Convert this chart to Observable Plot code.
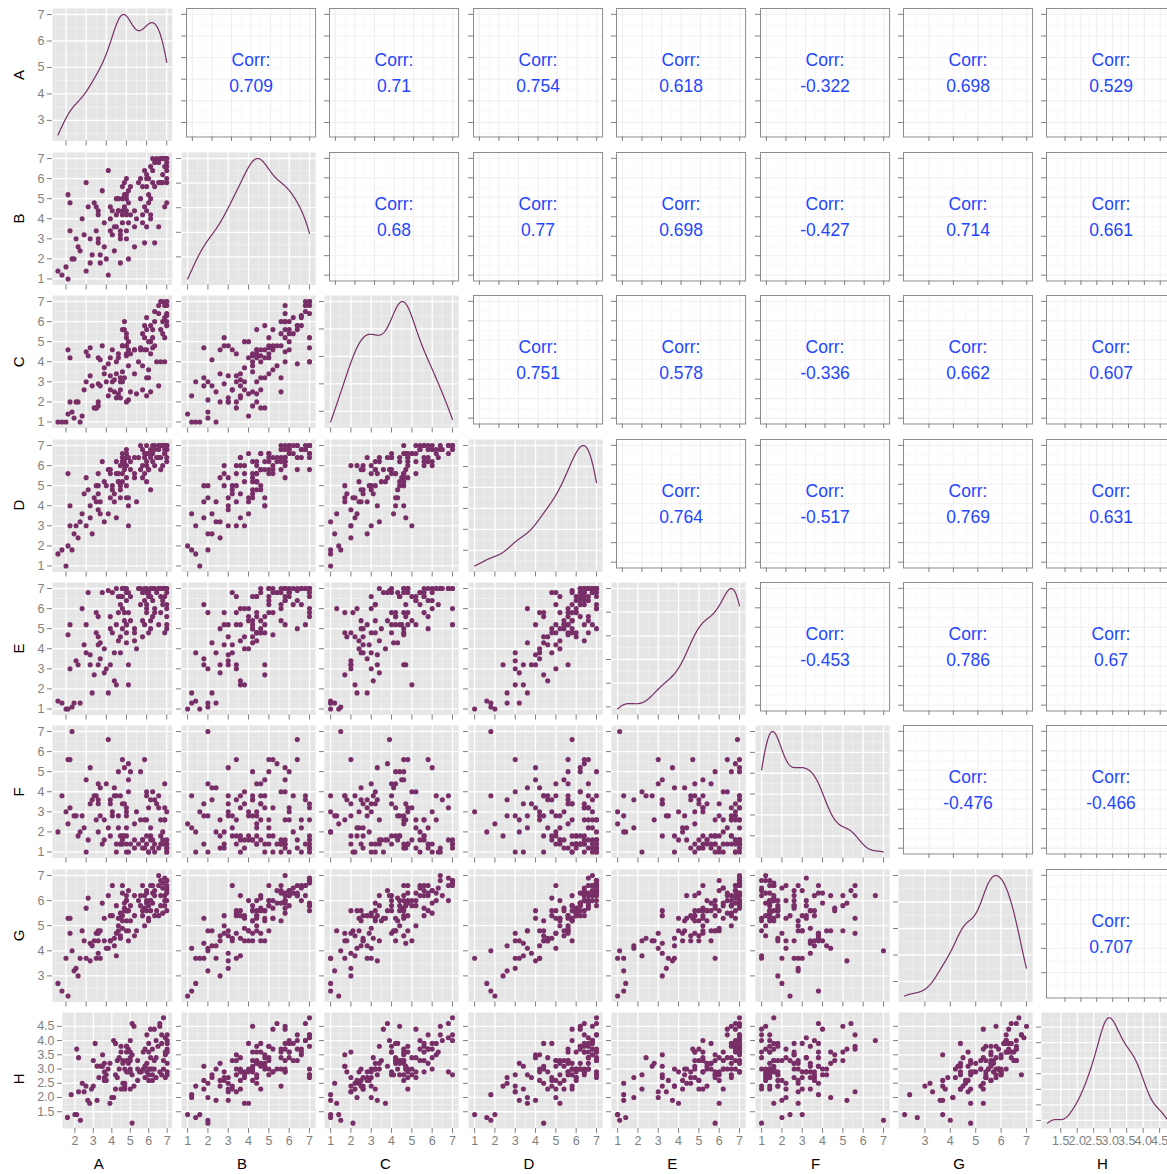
<!DOCTYPE html>
<html>
<head>
<meta charset="utf-8">
<script src="https://cdn.jsdelivr.net/npm/d3@7"></script>
<script src="https://cdn.jsdelivr.net/npm/@observablehq/plot@0.6"></script>
<style>
  body { margin: 0; background: #ffffff; }
  #wrap { position: relative; width: 1167px; height: 1174px; overflow: hidden; background: #ffffff;
          font-family: "Liberation Sans", Arial, Helvetica, sans-serif; }
  #wrap svg { position: absolute; }
</style>
</head>
<body>
<div id="wrap"></div>
<script>
// ---------- data (one value per respondent, same order in every array) ----------
const varNames = ["A", "B", "C", "D", "E", "F", "G", "H"];

const A = [1.6,1.8,2.0,2.1,2.1,2.2,2.2,2.3,2.4,2.5,
  2.6,2.7,2.8,3.0,3.0,3.1,3.2,3.2,3.4,3.5,3.5,3.3,2.9,
  3.6,3.6,3.6,3.6,3.7,3.7,3.8,3.9,4.1,4.1,4.2,4.2,4.2,4.3,4.3,4.4,4.4,4.5,4.5,4.5,4.0,3.9,
  4.6,4.6,4.7,4.7,4.8,4.8,4.7,4.8,4.9,5.0,5.0,5.0,5.0,5.0,5.0,5.1,5.1,5.1,5.1,5.2,5.2,4.7,4.8,5.4,5.4,4.9,5.4,5.5,4.6,4.9,
  4.8,5.6,5.0,5.7,5.7,5.8,5.8,5.8,5.9,5.9,5.9,6.0,6.0,6.0,6.0,6.0,6.1,6.1,6.2,6.2,6.2,6.3,6.3,6.3,6.4,6.4,6.5,6.4,6.1,6.2,
  6.6,6.6,6.6,6.7,6.7,6.7,6.8,6.8,6.8,6.9,6.9,6.9,6.9,7.0,7.0,7.0,7.0,7.0,7.0,7.0,7.0];
const B = [1.4,1.2,1.6,1.0,5.2,4.8,3.4,2.0,2.0,3.0,
  2.6,2.4,4.0,5.8,1.4,4.6,3.0,1.8,4.8,4.6,3.4,2.2,3.2,
  4.2,3.0,2.8,4.4,2.2,1.8,5.4,3.8,6.4,1.2,4.0,4.6,3.4,4.4,3.2,3.6,2.4,5.0,3.6,4.2,2.0,2.6,
  5.0,4.4,3.4,3.2,5.6,4.2,3.0,3.8,4.6,5.2,3.0,4.2,5.0,4.4,6.0,2.0,4.8,3.8,5.4,4.2,5.6,1.8,5.0,4.4,2.6,5.8,3.6,4.0,4.4,5.2,
  4.4,5.8,3.4,6.0,5.0,4.2,5.6,3.8,6.4,4.6,2.8,5.6,6.0,4.4,6.2,3.6,6.0,4.8,6.6,5.0,4.2,5.8,6.4,7.0,6.8,2.8,7.0,5.6,5.2,4.0,
  6.8,3.6,5.8,5.8,7.0,7.0,6.2,5.8,7.0,4.6,6.6,7.0,7.0,7.0,6.0,6.4,6.8,5.8,6.6,7.0,4.8];
const C = [1.0,1.0,1.0,1.4,4.6,4.2,2.0,1.5,1.2,2.0,
  2.0,1.0,1.3,4.5,3.0,4.3,3.3,4.7,1.7,1.7,1.7,2.8,2.6,
  1.8,2.0,2.9,4.2,4.1,2.8,4.8,3.7,3.9,2.3,4.2,2.6,3.3,3.0,4.6,3.1,2.5,3.4,2.2,4.0,3.0,3.4,
  4.2,2.4,3.0,2.6,4.8,3.5,2.2,3.0,3.2,4.8,4.8,4.3,5.2,2.0,5.4,2.1,4.6,5.0,3.8,4.4,2.5,3.2,4.8,4.6,4.6,6.0,3.4,2.4,4.4,5.6,
  5.6,4.0,4.4,4.6,4.7,3.8,5.4,2.6,5.8,4.6,5.2,3.2,5.6,4.6,6.2,2.3,5.0,3.2,5.8,4.4,2.5,5.2,5.6,4.7,6.5,4.8,4.0,6.0,3.6,5.0,
  6.8,2.8,6.4,5.6,4.0,7.0,5.4,6.0,7.0,4.0,6.2,6.8,5.2,6.4,6.0,5.8,7.0,6.8,6.3,7.0,5.8];
const D = [1.6,1.8,1.0,2.0,5.6,4.0,3.0,1.8,2.6,3.0,
  2.4,3.2,3.6,5.4,3.0,4.8,4.0,3.4,4.4,5.0,4.2,2.6,4.6,
  4.6,3.8,5.0,5.6,3.6,4.2,6.2,5.2,5.8,3.6,4.4,5.8,5.6,4.8,5.0,4.6,4.2,6.2,3.4,5.6,5.0,3.2,
  5.6,5.2,6.0,4.8,6.4,5.2,4.4,5.6,5.8,6.4,5.4,4.4,6.6,6.0,6.8,4.4,4.0,3.0,6.4,6.2,5.8,5.0,6.6,5.6,5.4,6.2,6.4,4.2,5.2,6.0,
  6.2,6.4,5.0,7.0,5.8,5.4,6.8,6.0,6.4,6.6,5.6,6.2,7.0,5.2,6.6,6.0,6.6,5.8,6.8,6.4,4.8,6.2,7.0,6.6,6.8,6.0,6.4,7.0,5.8,6.6,
  7.0,6.4,6.8,6.4,5.8,7.0,7.0,6.0,7.0,6.6,6.8,6.6,7.0,7.0,6.8,7.0,6.8,7.0,6.4,7.0,6.2];
const E = [1.4,1.3,1.0,1.0,4.7,5.2,3.0,1.1,1.3,3.4,
  3.2,1.3,6.0,5.2,3.8,6.8,3.7,3.2,2.7,4.8,5.8,1.8,4.2,
  4.6,3.2,4.2,5.6,4.3,3.5,6.8,4.0,6.9,1.8,5.6,5.0,3.2,4.8,6.8,2.4,3.8,7.0,2.2,5.2,3.0,2.8,
  5.8,4.4,6.6,3.8,7.0,5.0,4.6,6.0,5.4,7.0,5.2,4.3,6.4,4.8,6.8,5.8,3.2,2.2,6.8,6.6,5.4,6.2,7.0,4.8,5.0,7.0,4.4,4.0,6.6,5.8,
  6.6,7.0,5.2,7.0,6.2,5.4,6.8,4.6,6.4,7.0,5.2,6.2,6.8,5.8,7.0,6.0,6.6,4.8,7.0,6.6,5.0,6.4,7.0,5.6,7.0,5.8,6.8,6.0,6.8,5.4,
  7.0,5.2,7.0,6.6,5.8,7.0,6.2,6.4,7.0,4.8,7.0,7.0,6.6,7.0,6.8,5.0,5.2,7.0,6.2,6.0,5.6];
const F = [2.0,3.8,3.0,2.4,5.6,3.2,5.6,7.0,2.8,2.8,
  1.8,2.0,2.8,4.6,1.0,1.6,5.2,3.4,3.8,3.8,2.6,3.6,2.2,
  3.6,3.4,2.0,4.4,4.2,2.8,1.4,1.6,6.6,2.2,1.8,3.4,3.6,3.0,2.8,3.8,4.2,1.4,1.0,3.8,4.4,2.6,
  5.0,2.2,1.4,1.8,1.4,1.6,3.8,3.4,3.4,3.2,3.0,2.8,2.2,1.4,1.0,1.0,4.6,4.0,5.4,5.0,1.4,1.4,5.6,2.4,1.2,5.2,1.6,3.0,2.8,1.8,
  1.8,1.4,1.8,5.0,2.6,1.6,1.6,1.2,5.6,2.6,1.2,4.0,2.6,1.4,3.8,1.8,3.2,1.0,2.2,1.8,3.6,4.0,1.6,1.2,3.6,1.4,3.4,1.0,1.0,1.6,
  3.8,3.2,1.2,2.6,1.8,1.4,2.0,1.4,1.6,4.4,2.6,3.2,2.6,1.0,3.0,1.2,1.4,1.6,1.0,1.2,1.4];
const G = [2.7,2.4,3.7,2.2,5.3,5.3,4.7,4.0,3.2,3.3,
  3.0,3.7,4.8,5.7,3.7,6.1,3.6,4.3,4.4,4.7,3.7,4.2,4.4,
  4.4,3.9,4.7,4.8,4.8,3.7,5.9,5.3,6.2,4.1,4.4,4.4,5.4,5.4,6.6,4.5,4.2,5.8,3.8,4.7,4.1,4.4,
  4.8,5.3,5.5,4.5,6.3,5.2,4.6,4.9,5.6,6.0,4.8,5.2,6.0,5.6,6.2,4.8,5.6,4.4,6.4,5.8,5.2,5.3,6.6,5.4,4.6,5.9,6.2,4.8,5.0,5.7,
  5.4,6.0,5.6,6.2,5.8,5.6,6.6,5.4,6.2,5.7,5.0,5.9,6.4,6.0,6.3,5.6,5.8,5.2,6.6,6.0,5.6,6.3,6.6,5.9,6.2,5.4,5.6,6.4,5.3,6.0,
  6.6,5.4,7.0,6.2,5.8,6.8,6.5,5.5,6.7,6.2,6.0,6.9,5.8,6.8,6.4,6.3,6.6,6.0,6.5,6.8,5.6];
const H = [1.3,2.1,1.4,1.4,3.7,3.4,2.2,1.2,2.5,2.2,
  2.4,1.9,1.8,3.3,2.4,3.9,1.9,3.1,3.1,3.1,3.5,2.7,2.3,
  2.9,2.7,2.6,3.2,2.8,2.6,3.0,1.8,4.0,2.0,3.9,2.3,2.8,2.7,3.3,3.4,3.0,3.8,2.3,3.6,2.0,3.2,
  3.3,2.5,3.0,2.4,3.6,3.3,2.5,2.9,3.2,2.9,2.3,3.0,3.4,3.6,4.0,1.1,3.5,2.8,4.6,4.5,2.4,2.3,3.8,3.3,2.6,3.7,3.0,2.9,3.2,2.9,
  3.8,2.9,3.3,3.6,3.0,3.1,3.7,2.7,4.2,3.2,2.9,3.0,3.6,2.8,3.9,2.6,3.4,3.0,3.7,2.8,2.6,4.4,3.3,3.0,4.0,2.7,3.8,3.4,4.4,3.0,
  4.6,2.9,4.5,3.9,2.8,4.2,3.3,3.0,4.8,3.6,3.5,4.1,2.7,4.2,3.9,3.7,4.0,2.9,3.6,2.8,3.2];

// correlation labels, upper triangle, row by row
const corrA = [0.709, 0.71, 0.754, 0.618, -0.322, 0.698, 0.529];
const corrB = [0.68, 0.77, 0.698, -0.427, 0.714, 0.661];
const corrC = [0.751, 0.578, -0.336, 0.662, 0.607];
const corrD = [0.764, -0.517, 0.769, 0.631];
const corrE = [-0.453, 0.786, 0.67];
const corrF = [-0.476, -0.466];
const corrG = [0.707];

// axis tick values per variable
const ticksA = [2, 3, 4, 5, 6, 7];
const ticks17 = [1, 2, 3, 4, 5, 6, 7];
const ticksG = [3, 4, 5, 6, 7];
const ticksH = [1.5, 2.0, 2.5, 3.0, 3.5, 4.0, 4.5];

// ---------- drawing ----------
const cols = [A, B, C, D, E, F, G, H];
const corrRows = [corrA, corrB, corrC, corrD, corrE, corrF, corrG];
const tickSets = [ticksA, ticks17, ticks17, ticks17, ticks17, ticks17, ticksG, ticksH];
const fmts = varNames.map((v, k) => k === 7 ? d3.format(".1f") : d3.format("d"));
const n = d3.min(cols, c => c.length);
const idx = d3.range(n);

const purple = "#782E66";
const grey = "#7F7F7F";
const blue = "#2346FF";
const font = "Liberation Sans, Arial, Helvetica, sans-serif";

function expand(lo, hi) { const r = hi - lo; return [lo - 0.05 * r, hi + 0.05 * r]; }
const doms = cols.map(c => expand(d3.min(c.slice(0, n)), d3.max(c.slice(0, n))));

function minors(ticks, dom) {
  if (ticks.length < 2) return [];
  const step = ticks[1] - ticks[0];
  const out = [];
  for (let t = ticks[0] - step / 2; t <= dom[1]; t += step) if (t >= dom[0]) out.push(t);
  return out;
}

// Gaussian kernel density (bw.nrd0), scaled into the variable's range like ggpairs' diagonal
function density(v) {
  const s = v.slice(0, n).sort(d3.ascending);
  const sd = d3.deviation(s);
  const iqr = d3.quantile(s, 0.75) - d3.quantile(s, 0.25);
  const bw = 0.9 * Math.min(sd, iqr / 1.34) * Math.pow(s.length, -0.2);
  const lo = s[0], hi = s[s.length - 1];
  const pts = d3.range(512).map(k => {
    const x = lo + (hi - lo) * k / 511;
    let d = 0;
    for (const xi of s) { const u = (x - xi) / bw; d += Math.exp(-0.5 * u * u); }
    return {x, d};
  });
  const mx = d3.max(pts, p => p.d);
  pts.forEach(p => { p.y = p.d / mx * (hi - lo) + lo; });
  return pts;
}
const dens = cols.map(density);

const wrap = document.getElementById("wrap");

function cell(i, j) {
  const x0 = j === 0 ? (i === 7 ? 62 : 52) : 181 + 143.4 * (j - 1);
  const x1 = 171.7 + 143.4 * j;
  const y0 = 8.3 + 143.4 * i;
  const y1 = i === 7 ? 1128 : y0 + 132.5;
  const upper = i < j;
  const svgLeft = j === 0 ? 0 : x0 - 7;
  const mL = j === 0 ? x0 : (upper ? 12 : 7);
  const mB = i === 7 ? 46 : (upper ? 11 : 7);
  const W = x1 - svgLeft;
  const Ht = (y1 - y0) + (i === 7 ? 46 : 7);

  const xd = doms[j];
  let yd = doms[i];
  let yt;
  const xt = tickSets[j].filter(t => t >= xd[0] && t <= xd[1]);
  if (i === j) {
    const e = d3.extent(dens[i], p => p.y);
    yd = expand(e[0], e[1]);
    yt = tickSets[i].filter(t => t >= e[0] - 0.02 && t <= e[1] + 0.02);
  } else {
    yt = tickSets[i].filter(t => t >= yd[0] && t <= yd[1]);
  }
  const showX = i === 7, showY = j === 0;

  const axes = [
    Plot.axisX({ticks: xt, tickSize: upper ? 4.5 : 5, tickPadding: 3, color: grey, fontSize: 12.5,
                label: null, tickFormat: showX ? fmts[j] : () => ""}),
    Plot.axisY({ticks: yt, tickSize: 5, tickPadding: 3, color: grey, fontSize: 12.5,
                label: null, tickFormat: showY ? fmts[i] : () => ""})
  ];

  let marks;
  if (upper) {
    marks = [
      Plot.frame({fill: "white", stroke: "none"}),
      Plot.ruleX(minors(xt, xd), {stroke: "#F7F7F7", strokeWidth: 0.7}),
      Plot.ruleY(minors(yt, yd), {stroke: "#F7F7F7", strokeWidth: 0.7}),
      Plot.ruleX(xt, {stroke: "#EEEEEE", strokeWidth: 1}),
      Plot.ruleY(yt, {stroke: "#EEEEEE", strokeWidth: 1}),
      Plot.frame({stroke: "#8C8C8C", strokeWidth: 1, fill: "none"}),
      Plot.text([`Corr:\n${corrRows[i][j - i - 1]}`], {
        text: d => d, frameAnchor: "middle", dy: -2, fill: blue, fontSize: 17.5, lineHeight: 1.48
      }),
      ...axes
    ];
  } else {
    const dataMark = i === j
      ? Plot.line(dens[i], {x: "x", y: "y", stroke: purple, strokeWidth: 1.2})
      : Plot.dot(idx, {x: k => cols[j][k], y: k => cols[i][k], r: 2.55, fill: purple});
    marks = [
      Plot.frame({fill: "#E5E5E5", stroke: "none"}),
      Plot.ruleX(minors(xt, xd), {stroke: "#F2F2F2", strokeWidth: 0.7}),
      Plot.ruleY(minors(yt, yd), {stroke: "#F2F2F2", strokeWidth: 0.7}),
      Plot.ruleX(xt, {stroke: "#FFFFFF", strokeWidth: 1.3}),
      Plot.ruleY(yt, {stroke: "#FFFFFF", strokeWidth: 1.3}),
      dataMark,
      ...axes
    ];
  }

  const svg = Plot.plot({
    width: W, height: Ht,
    marginLeft: mL, marginRight: 0, marginTop: 0, marginBottom: mB,
    x: {domain: xd, label: null},
    y: {domain: yd, label: null},
    style: {background: "transparent", fontFamily: font, overflow: "visible"},
    marks
  });
  svg.style.position = "absolute";
  svg.style.left = svgLeft + "px";
  svg.style.top = y0 + "px";
  wrap.appendChild(svg);
}

for (let i = 0; i < 8; i++) for (let j = 0; j < 8; j++) cell(i, j);

// variable names along the left and bottom
const ns = "http://www.w3.org/2000/svg";
const lab = document.createElementNS(ns, "svg");
lab.setAttribute("width", 1167); lab.setAttribute("height", 1174);
lab.style.left = "0px"; lab.style.top = "0px"; lab.style.pointerEvents = "none";
varNames.forEach((v, k) => {
  const t1 = document.createElementNS(ns, "text");
  t1.setAttribute("transform", `translate(18,${75 + 143.4 * k}) rotate(-90)`);
  t1.setAttribute("text-anchor", "middle"); t1.setAttribute("dominant-baseline", "central");
  t1.setAttribute("font-size", "15"); t1.setAttribute("font-family", font); t1.setAttribute("fill", "#000");
  t1.textContent = v; lab.appendChild(t1);
  const t2 = document.createElementNS(ns, "text");
  t2.setAttribute("x", 98.7 + 143.4 * k); t2.setAttribute("y", 1163);
  t2.setAttribute("text-anchor", "middle"); t2.setAttribute("dominant-baseline", "central");
  t2.setAttribute("font-size", "15"); t2.setAttribute("font-family", font); t2.setAttribute("fill", "#000");
  t2.textContent = v; lab.appendChild(t2);
});
wrap.appendChild(lab);
</script>
</body>
</html>
